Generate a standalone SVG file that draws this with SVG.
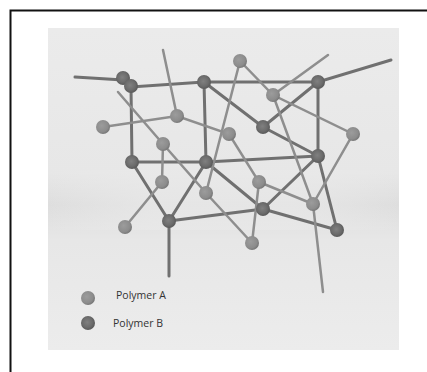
<svg xmlns="http://www.w3.org/2000/svg" width="427" height="372" viewBox="0 0 427 372">
  <defs>
    <linearGradient id="panelShade" x1="0" y1="0" x2="0" y2="1">
      <stop offset="0" stop-color="#ebebeb"/>
      <stop offset="0.45" stop-color="#e7e7e7"/>
      <stop offset="0.55" stop-color="#dedede"/>
      <stop offset="0.66" stop-color="#e7e7e7"/>
      <stop offset="1" stop-color="#ececec"/>
    </linearGradient>
    <linearGradient id="panelCenter" x1="0" y1="0" x2="1" y2="0">
      <stop offset="0" stop-color="#ebebeb" stop-opacity="0"/>
      <stop offset="0.3" stop-color="#e9e9e9" stop-opacity="0.7"/>
      <stop offset="0.7" stop-color="#e9e9e9" stop-opacity="0.7"/>
      <stop offset="1" stop-color="#ebebeb" stop-opacity="0"/>
    </linearGradient>
    <radialGradient id="ballA" cx="0.4" cy="0.4" r="0.65">
      <stop offset="0" stop-color="#9c9c9c"/>
      <stop offset="0.7" stop-color="#8c8c8c"/>
      <stop offset="1" stop-color="#727272"/>
    </radialGradient>
    <radialGradient id="ballB" cx="0.45" cy="0.45" r="0.6">
      <stop offset="0" stop-color="#808080"/>
      <stop offset="0.6" stop-color="#6c6c6c"/>
      <stop offset="1" stop-color="#555555"/>
    </radialGradient>
  </defs>
  <style>
    .dark { stroke: #707070; stroke-width: 3; fill: none; stroke-linecap: round; }
    .light { stroke: #8e8e8e; stroke-width: 2.5; fill: none; stroke-linecap: round; }
    .a { fill: url(#ballA); }
    .b { fill: url(#ballB); }
    .label { font-family: "Open Sans", "Liberation Sans", sans-serif; font-size: 10.5px; fill: #333333; }
  </style>

  <!-- page and frame -->
  <rect x="0" y="0" width="427" height="372" fill="#ffffff"/>
  <rect x="10.5" y="10.5" width="430" height="380" fill="none" stroke="#111111" stroke-width="2"/>
  <rect x="48" y="28" width="351" height="322" fill="url(#panelShade)"/>
  <rect x="48" y="170" width="351" height="60" fill="url(#panelCenter)"/>

  <!-- connectors -->
  <g id="connectors">
    <!-- Polymer B backbone -->
    <polyline class="dark" points="75,77 123,80 131,87 204,82 318,82 391,60"/>
    <line class="dark" x1="131" y1="87" x2="132" y2="162"/>
    <line class="dark" x1="204" y1="82" x2="206" y2="162"/>
    <line class="dark" x1="318" y1="82" x2="318" y2="156"/>
    <polyline class="dark" points="132,162 206,162 318,156"/>
    <line class="dark" x1="204" y1="82" x2="263" y2="127"/>
    <line class="dark" x1="263" y1="127" x2="318" y2="82"/>
    <line class="dark" x1="263" y1="127" x2="318" y2="156"/>
    <line class="dark" x1="132" y1="162" x2="169" y2="221"/>
    <line class="dark" x1="206" y1="162" x2="169" y2="221"/>
    <line class="dark" x1="169" y1="221" x2="169" y2="276"/>
    <line class="dark" x1="169" y1="221" x2="263" y2="209"/>
    <line class="dark" x1="206" y1="162" x2="263" y2="209"/>
    <line class="dark" x1="263" y1="209" x2="318" y2="156"/>
    <line class="dark" x1="263" y1="209" x2="337" y2="230"/>
    <line class="dark" x1="318" y1="156" x2="337" y2="230"/>

    <!-- Polymer A chains -->
    <line class="light" x1="163" y1="50" x2="177" y2="116"/>
    <polyline class="light" points="103,127 177,116 229,134 259,182 252,243"/>
    <line class="light" x1="240" y1="61" x2="206" y2="193"/>
    <polyline class="light" points="240,61 273,95 353,134 313,204"/>
    <polyline class="light" points="273,95 313,204 323,292"/>
    <line class="light" x1="328" y1="55" x2="273" y2="95"/>
    <line class="light" x1="259" y1="182" x2="313" y2="204"/>
    <polyline class="light" points="118,92 163,144 206,193 252,243"/>
    <polyline class="light" points="163,144 162,182 125,227"/>
  </g>

  <!-- Polymer B nodes -->
  <g id="nodeB1a"><circle class="b" cx="123" cy="78" r="7"/></g>
  <g id="nodeB1b"><circle class="b" cx="131" cy="86" r="7"/></g>
  <g id="nodeB2"><circle class="b" cx="204" cy="82" r="7"/></g>
  <g id="nodeB3"><circle class="b" cx="318" cy="82" r="7"/></g>
  <g id="nodeB4"><circle class="b" cx="263" cy="127" r="7"/></g>
  <g id="nodeB5"><circle class="b" cx="132" cy="162" r="7"/></g>
  <g id="nodeB6"><circle class="b" cx="206" cy="162" r="7"/></g>
  <g id="nodeB7"><circle class="b" cx="318" cy="156" r="7"/></g>
  <g id="nodeB8"><circle class="b" cx="169" cy="221" r="7"/></g>
  <g id="nodeB9"><circle class="b" cx="263" cy="209" r="7"/></g>
  <g id="nodeB10"><circle class="b" cx="337" cy="230" r="7"/></g>

  <!-- Polymer A nodes -->
  <g id="nodeA1"><circle class="a" cx="240" cy="61" r="7"/></g>
  <g id="nodeA2"><circle class="a" cx="273" cy="95" r="7"/></g>
  <g id="nodeA3"><circle class="a" cx="177" cy="116" r="7"/></g>
  <g id="nodeA4"><circle class="a" cx="103" cy="127" r="7"/></g>
  <g id="nodeA5"><circle class="a" cx="229" cy="134" r="7"/></g>
  <g id="nodeA6"><circle class="a" cx="353" cy="134" r="7"/></g>
  <g id="nodeA7"><circle class="a" cx="163" cy="144" r="7"/></g>
  <g id="nodeA8"><circle class="a" cx="162" cy="182" r="7"/></g>
  <g id="nodeA9"><circle class="a" cx="259" cy="182" r="7"/></g>
  <g id="nodeA10"><circle class="a" cx="206" cy="193" r="7"/></g>
  <g id="nodeA11"><circle class="a" cx="313" cy="204" r="7"/></g>
  <g id="nodeA12"><circle class="a" cx="125" cy="227" r="7"/></g>
  <g id="nodeA13"><circle class="a" cx="252" cy="243" r="7"/></g>

  <!-- legend -->
  <g id="legend">
    <circle class="a" cx="88" cy="298" r="7"/>
    <text class="label" x="116" y="299">Polymer  A</text>
    <circle class="b" cx="88" cy="323" r="7"/>
    <text class="label" x="113" y="327">Polymer  B</text>
  </g>
</svg>
